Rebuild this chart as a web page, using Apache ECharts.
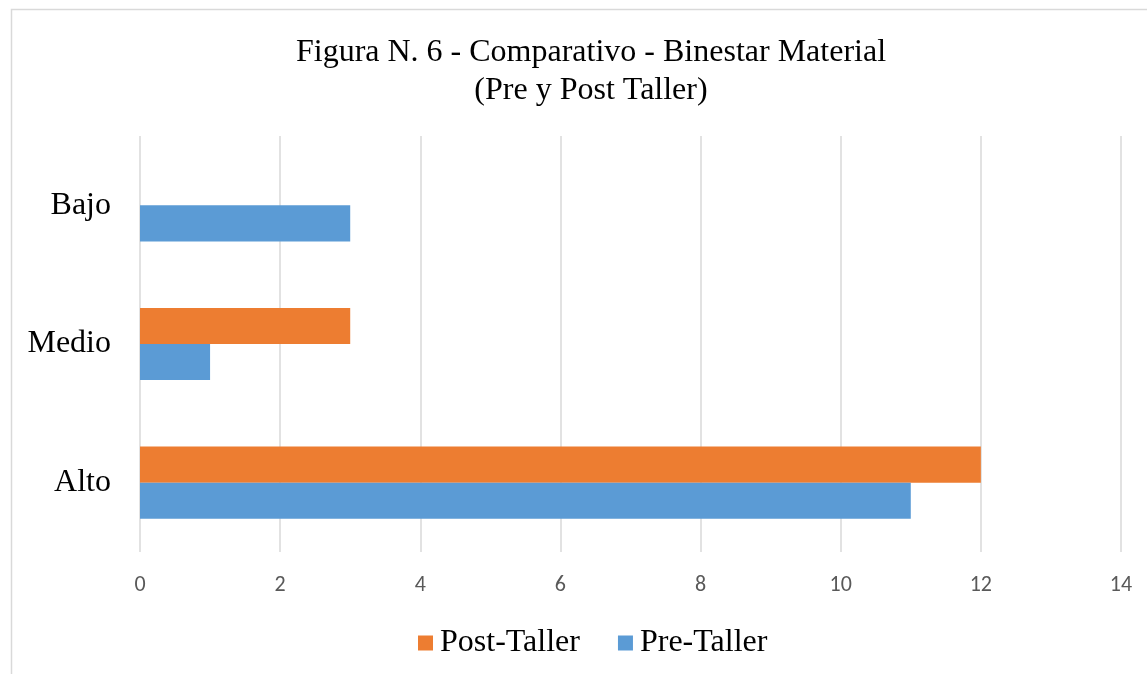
<!DOCTYPE html>
<html>
<head>
<meta charset="utf-8">
<script src="https://cdn.jsdelivr.net/npm/echarts@6/dist/echarts.min.js"></script>
<style>
  html, body { margin: 0; padding: 0; background: #fff; }
  #chart { width: 1147px; height: 674px; }
</style>
</head>
<body>
<div id="chart"></div>
<script>
// Categories from bottom to top of the y axis
const categories = ['Alto', 'Medio', 'Bajo'];
const preTaller = [11, 1, 3];
const postTaller = [12, 3, 0];
const seriesNames = ['Post-Taller', 'Pre-Taller'];
const legendOrder = ['Post-Taller', 'Pre-Taller'];

const serif = '"Liberation Serif", "Times New Roman", serif';
const sans = 'Carlito, "Open Sans", "Liberation Sans", sans-serif';

const chart = echarts.init(document.getElementById('chart'), null, { renderer: 'canvas' });

chart.setOption({
  backgroundColor: '#ffffff',
  animation: false,
  graphic: [{
    type: 'rect',
    shape: { x: 11.5, y: 9.5, width: 1200, height: 700 },
    style: { fill: 'none', stroke: '#d9d9d9', lineWidth: 1.5 },
    silent: true
  }],
  title: {
    text: 'Figura N. 6 - Comparativo - Binestar Material\n(Pre y Post Taller)',
    top: 29,
    left: 586,
    textAlign: 'center',
    textStyle: {
      fontFamily: serif,
      fontSize: 32,
      fontWeight: 'normal',
      color: '#000',
      lineHeight: 38
    }
  },
  legend: {
    data: legendOrder,
    top: 622,
    left: 413,
    itemWidth: 15,
    itemHeight: 15,
    itemGap: 38,
    icon: 'rect',
    textStyle: { fontFamily: serif, fontSize: 32, color: '#000', padding: [0, 0, 0, 2] }
  },
  grid: {
    left: 140,
    right: 26,
    top: 136,
    bottom: 122,
    containLabel: false
  },
  xAxis: {
    type: 'value',
    min: 0,
    max: 14,
    interval: 2,
    axisLine: { show: false },
    axisTick: { show: false },
    axisLabel: { fontFamily: sans, fontSize: 22, color: '#595959', margin: 22 },
    splitLine: { show: true, lineStyle: { color: '#d9d9d9', width: 1.5 } }
  },
  yAxis: {
    type: 'category',
    data: categories,
    axisLine: { show: false },
    axisTick: { show: false },
    axisLabel: { fontFamily: serif, fontSize: 32, color: '#000', margin: 29, padding: [10, 0, 0, 0] },
    splitLine: { show: false }
  },
  series: [
    {
      name: seriesNames[0],
      type: 'bar',
      data: postTaller,
      itemStyle: { color: '#ED7D31' },
      barGap: '0%',
      barCategoryGap: '48%'
    },
    {
      name: seriesNames[1],
      type: 'bar',
      data: preTaller,
      itemStyle: { color: '#5B9BD5' },
      barGap: '0%',
      barCategoryGap: '48%'
    }
  ]
});
</script>
</body>
</html>
